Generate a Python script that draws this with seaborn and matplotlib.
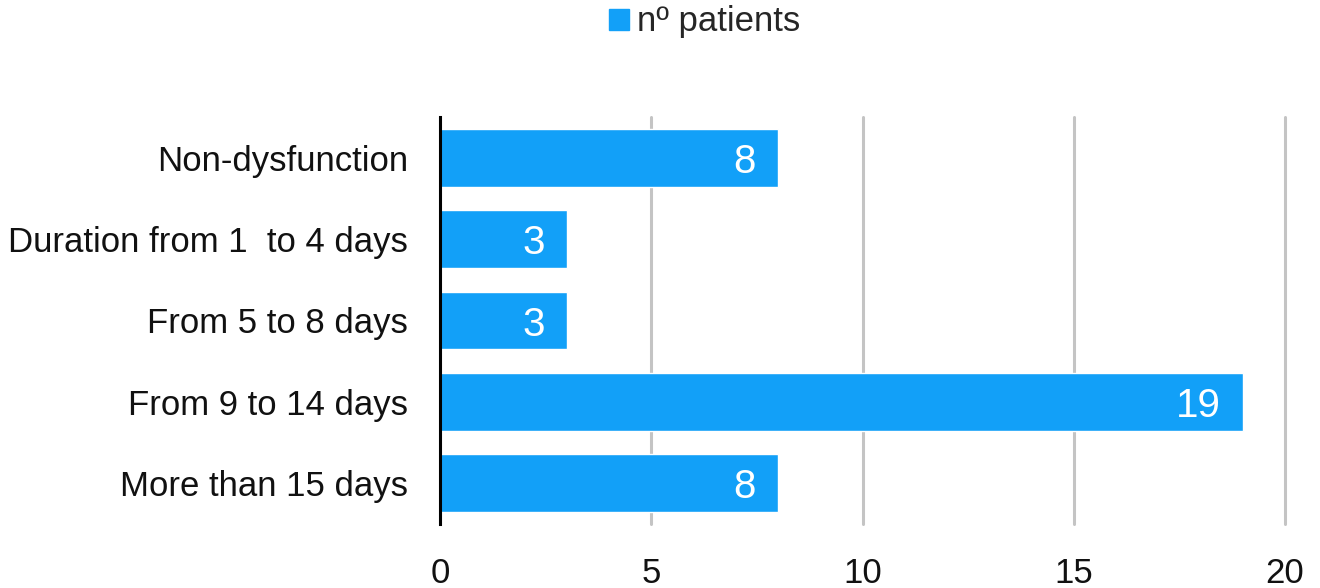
import matplotlib
matplotlib.use("Agg")
import matplotlib.pyplot as plt
import seaborn as sns
import pandas as pd

categories = ["Non-dysfunction", "Duration from 1  to 4 days", "From 5 to 8 days",
              "From 9 to 14 days", "More than 15 days"]
patients = [8, 3, 3, 19, 8]
x_ticks = [0, 5, 10, 15, 20]
series_name = "nº patients"

bar_color = "#12A0F8"
grid_color = "#C4C4C4"

sns.set_theme(style="white")
plt.rcParams["font.family"] = ["Liberation Sans", "DejaVu Sans"]

df = pd.DataFrame({"category": categories, "patients": patients})

fig = plt.figure(figsize=(13.2, 5.88), dpi=100)
ax = fig.add_axes([440 / 1320, 1 - 524 / 588, (1285 - 440) / 1320, (524 - 117) / 588])

sns.barplot(data=df, y="category", x="patients", orient="h", color=bar_color,
            saturation=1, width=0.71, ax=ax, zorder=3, label=series_name, legend=False)

ax.set_xlim(0, 20)
ax.set_xticks(x_ticks)
ax.set_xticklabels([str(t) for t in x_ticks])
ax.set_xlabel("")
ax.set_ylabel("")

ax.grid(axis="x", color=grid_color, linewidth=2.2, zorder=0)
ax.grid(axis="y", visible=False)
for gl in ax.get_xgridlines():
    gl.set_clip_on(False)
for side in ["top", "right", "bottom"]:
    ax.spines[side].set_visible(False)
ax.spines["left"].set_color("black")
ax.spines["left"].set_linewidth(2.2)
ax.spines["left"].set_zorder(5)

ax.tick_params(axis="x", length=0, labelsize=25, pad=24, colors="#111111")
ax.tick_params(axis="y", length=0, labelsize=25, pad=23, colors="#111111")

# white value labels right-aligned inside each bar
for patch, val in zip(ax.patches, patients):
    y_mid = patch.get_y() + patch.get_height() / 2
    ax.annotate(str(val), xy=(val, y_mid), xytext=(-16, -3), textcoords="offset points",
                ha="right", va="center", color="white", fontsize=29, zorder=6)

handle = plt.Rectangle((0, 0), 1, 1, color=bar_color)
fig.legend([handle], [series_name], loc="center", bbox_to_anchor=(705 / 1320, 1 - 22 / 588),
           frameon=False, fontsize=25, handlelength=0.55, handleheight=0.55,
           handletextpad=0.25, borderpad=0)

fig.savefig("out.png", dpi=100)
